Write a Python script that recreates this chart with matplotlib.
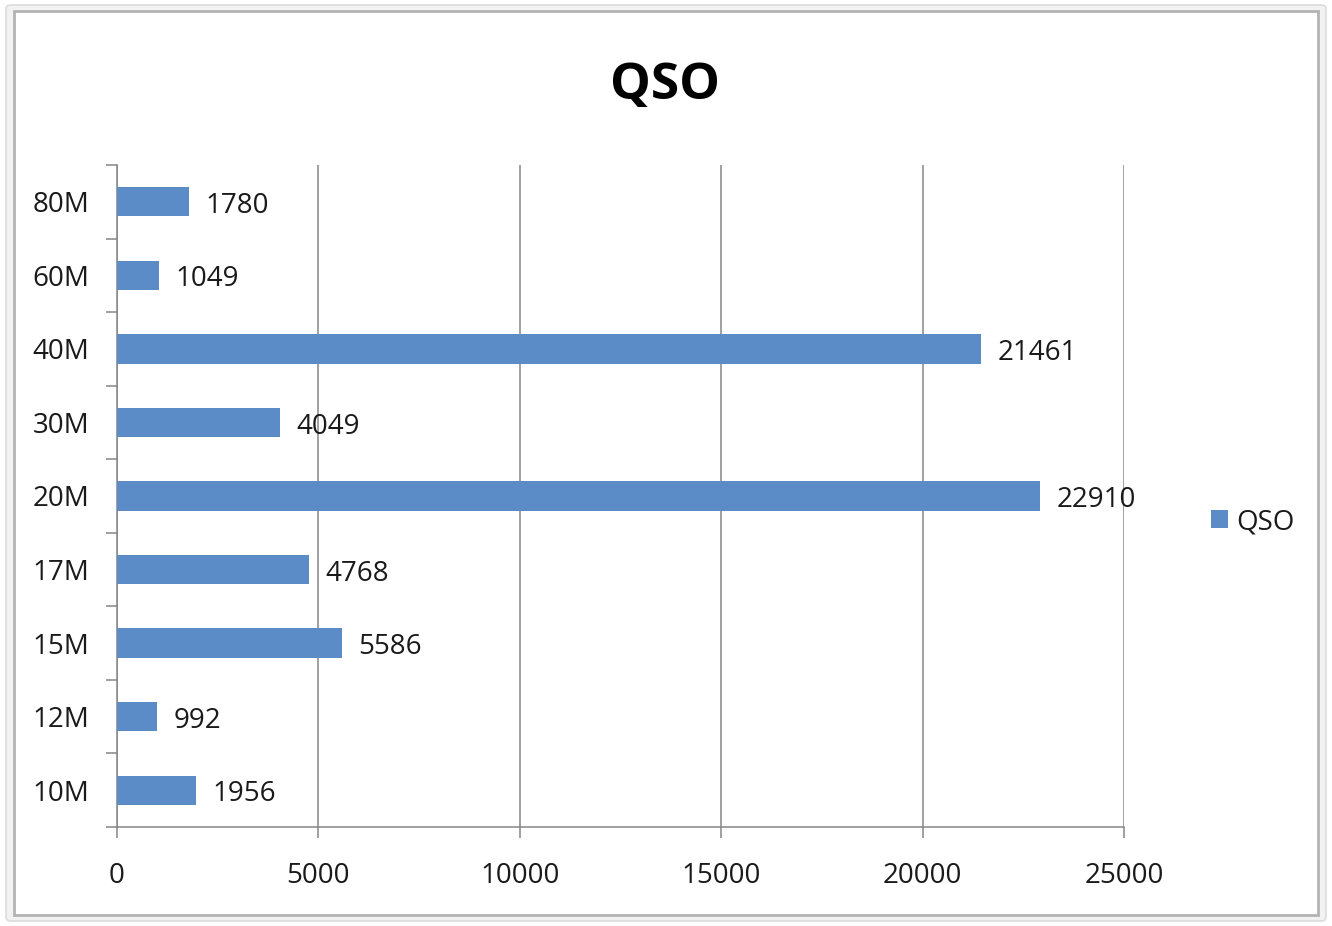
import matplotlib
matplotlib.use("Agg")
import matplotlib.pyplot as plt
from matplotlib.patches import FancyBboxPatch, Rectangle
from matplotlib.ticker import MultipleLocator, FixedLocator

bands = ["10M", "12M", "15M", "17M", "20M", "30M", "40M", "60M", "80M"]
qso = [1956, 992, 5586, 4768, 22910, 4049, 21461, 1049, 1780]
x_ticks = [0, 5000, 10000, 15000, 20000, 25000]

plt.rcParams['font.family'] = ['Open Sans', 'DejaVu Sans']

W, H = 1332, 926
fig = plt.figure(figsize=(W / 100, H / 100), dpi=100)
fig.patch.set_facecolor("white")

# outer frame and inner chart area border
fig.patches.append(FancyBboxPatch((6 / W, 5 / H), 1320 / W, 916 / H,
                                  boxstyle="round,pad=0,rounding_size=0.004",
                                  transform=fig.transFigure, facecolor="#f2f2f2",
                                  edgecolor="#dcdcdc", linewidth=1.2, zorder=-3))
fig.patches.append(Rectangle((14 / W, 11 / H), 1304 / W, 904 / H,
                             transform=fig.transFigure, facecolor="white",
                             edgecolor="#b4b4b4", linewidth=2.0, zorder=-2))

ax = fig.add_axes([117 / W, 1 - 827 / H, (1124 - 117) / W, (827 - 165) / H])
ax.set_facecolor("none")

y = list(range(len(bands)))
bars = ax.barh(y, qso, height=0.4, color="#5b8cc7", label="QSO", zorder=3)
for yi, v in zip(y, qso):
    ax.annotate(str(v), (v, yi), xytext=(12, -3), textcoords="offset points",
                ha="left", va="center", fontsize=20, color="#1a1a1a", zorder=4)

ax.set_xlim(0, 25000)
ax.set_ylim(-0.5, len(bands) - 0.5)
ax.xaxis.set_major_locator(FixedLocator(x_ticks))
ax.set_xticklabels([str(t) for t in x_ticks])
ax.grid(axis="x", color="#868686", linewidth=1.1, zorder=0)
ax.grid(axis="y", visible=False)

ax.set_yticks(y)
ax.set_yticklabels(bands)
ax.yaxis.set_minor_locator(MultipleLocator(1, offset=0.5))
ax.tick_params(axis="y", which="major", length=0, pad=20, labelsize=20, labelcolor="#1a1a1a")
ax.tick_params(axis="y", which="minor", length=8, width=1.1, color="#868686")
ax.tick_params(axis="x", which="major", length=8, width=1.1, color="#868686",
               pad=17, labelsize=20, labelcolor="#1a1a1a")

for side in ["top", "right"]:
    ax.spines[side].set_visible(False)
for side in ["left", "bottom"]:
    ax.spines[side].set_color("#868686")
    ax.spines[side].set_linewidth(1.1)

fig.text(665 / W, 1 - 86 / H, "QSO", ha="center", va="center",
         fontsize=37, fontweight="bold", color="black")

fig.legend(handles=[bars], labels=["QSO"], loc="center left",
           bbox_to_anchor=(1186 / W, 1 - 522 / H), frameon=False,
           fontsize=20, handlelength=0.6, handleheight=0.6, handletextpad=0.3,
           labelcolor="#1a1a1a")

fig.savefig("out.png", dpi=100, facecolor="white")
